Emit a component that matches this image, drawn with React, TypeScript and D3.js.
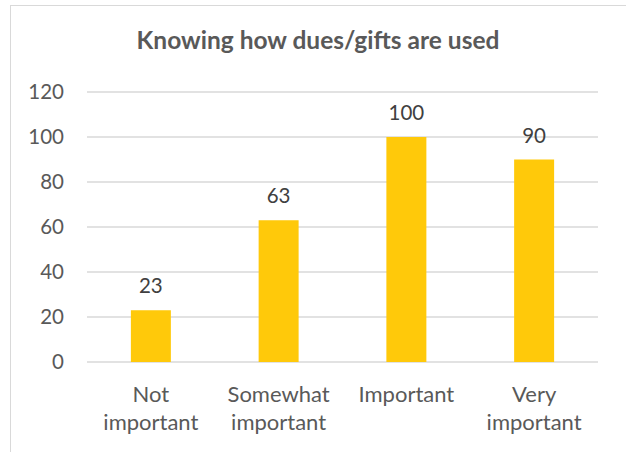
import React from "react";
import * as d3 from "d3";

const categories: string[][] = [["Not", "important"], ["Somewhat", "important"], ["Important"], ["Very", "important"]];
const values: number[] = [23, 63, 100, 90];
const yTicks: number[] = [0, 20, 40, 60, 80, 100, 120];
const title = "Knowing how dues/gifts are used";

const W = 626;
const H = 452;
const FONT = "Lato, 'Open Sans', sans-serif";
const GRAY = "#595959";

export default function App() {
  const keys = categories.map((c) => c.join(" "));
  const x = d3.scaleBand<string>().domain(keys).range([87, 598]).paddingInner(0.687).paddingOuter(0.3435);
  const y = d3.scaleLinear().domain([0, 120]).range([362, 92]);

  return (
    <svg width={W} height={H} style={{ position: "absolute", left: 0, top: 0, background: "#fff" }}>
      <rect x={10.5} y={5.5} width={W + 10} height={H + 10} fill="#fff" stroke="#d9d9d9" strokeWidth={1} />
      <text x={318} y={49} textAnchor="middle" fontFamily={FONT} fontWeight="bold" fontSize={24.5} fill={GRAY}>
        {title}
      </text>
      {yTicks.map((t) => (
        <g key={t}>
          <line x1={87} x2={598} y1={y(t)} y2={y(t)} stroke="#d9d9d9" strokeWidth={1.3} />
          <text x={64} y={y(t)} dy="0.36em" textAnchor="end" fontFamily={FONT} fontSize={20.5} fill={GRAY}>
            {t}
          </text>
        </g>
      ))}
      {values.map((v, i) => {
        const k = keys[i];
        const bx = x(k)!;
        return (
          <g key={k}>
            <rect x={bx} y={y(v)} width={x.bandwidth()} height={y(0) - y(v)} fill="#FFC90A" />
            <text x={bx + x.bandwidth() / 2} y={y(v) - 17} textAnchor="middle" fontFamily={FONT} fontSize={20.5} fill="#404040">
              {v}
            </text>
          </g>
        );
      })}
      {categories.map((lines, i) => {
        const k = keys[i];
        const cx = x(k)! + x.bandwidth() / 2;
        return (
          <text key={k} textAnchor="middle" fontFamily={FONT} fontSize={22} fill={GRAY}>
            {lines.map((l, j) => (
              <tspan key={j} x={cx} y={402 + j * 28}>
                {l}
              </tspan>
            ))}
          </text>
        );
      })}
    </svg>
  );
}
